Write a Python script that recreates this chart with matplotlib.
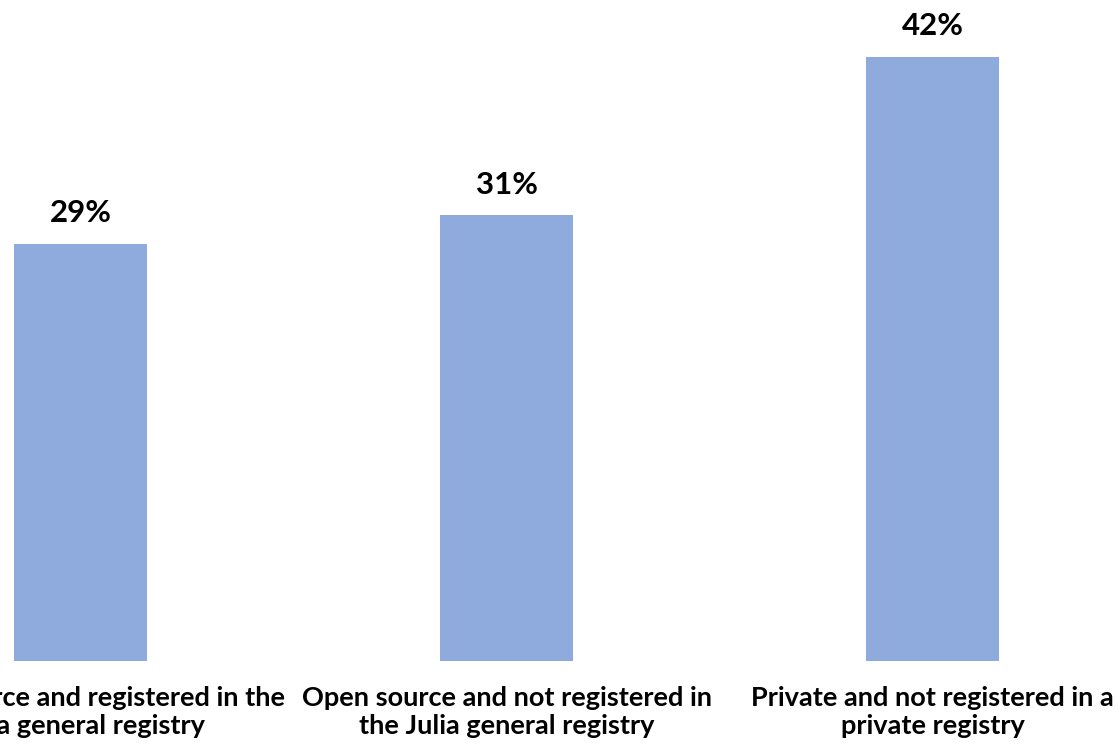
import matplotlib

matplotlib.use("Agg")
import matplotlib.pyplot as plt

categories = [
    "Open source and registered in the\nJulia general registry",
    "Open source and not registered in\nthe Julia general registry",
    "Private and not registered in a\nprivate registry",
]
shares = [29, 31, 42]

plt.rcParams["font.family"] = ["Lato", "DejaVu Sans"]

fig = plt.figure(figsize=(11.2, 7.51), dpi=100)
ax = fig.add_axes([0, 1 - 661 / 751, 1, 661 / 751])

x = list(range(len(categories)))
bars = ax.bar(x, shares, width=0.314, color="#8FAADC")

for rect, v in zip(bars, shares):
    ax.annotate(f"{v}%", (rect.get_x() + rect.get_width() / 2, v),
                xytext=(0, 12), textcoords="offset points",
                ha="center", va="bottom", fontsize=22.5, fontweight="bold")

ax.set_xlim(-80.4 / 426.1, (1120 - 80.4) / 426.1)
ax.set_ylim(0, 661 / 14.38)
ax.set_xticks(x)
ax.set_xticklabels(categories, fontsize=19.5, fontweight="bold", linespacing=1.2)
ax.tick_params(axis="x", length=0, pad=18)
ax.set_yticks([])
for s in ax.spines.values():
    s.set_visible(False)

fig.savefig("out.png", dpi=100)
